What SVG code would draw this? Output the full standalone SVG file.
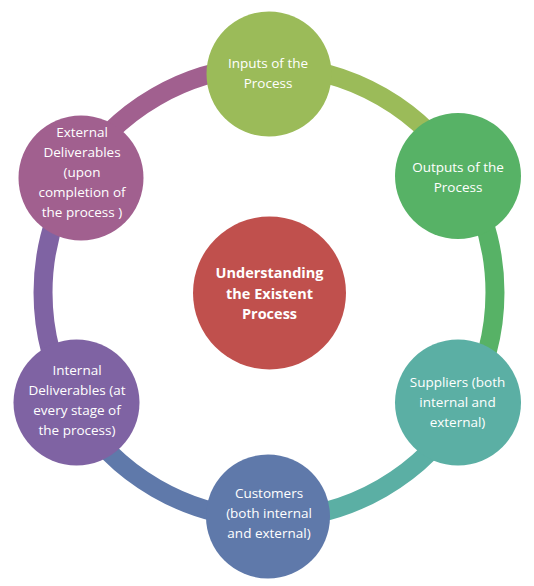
<svg xmlns="http://www.w3.org/2000/svg" width="534" height="586" viewBox="0 0 534 586">
  <style>
    .seg { fill: none; stroke-width: 19; }
    .lbl { font-family: "Open Sans", "Noto Sans", "Liberation Sans", sans-serif; font-size: 13.5px; fill: #ffffff; text-anchor: middle; }
    .hub { font-family: "Open Sans", "Noto Sans", "Liberation Sans", sans-serif; font-size: 14.5px; font-weight: bold; fill: #ffffff; text-anchor: middle; }
  </style>
  <rect width="534" height="586" fill="#ffffff"/>

  <!-- ring segments, each coloured like the node it leaves (clockwise) -->
  <g id="connectors">
    <path class="seg" stroke="#9BBB59" d="M 269 66.5 A 226 226 0 0 1 464.7 179.5"/>
    <path class="seg" stroke="#57B266" d="M 464.7 179.5 A 226 226 0 0 1 464.7 405.5"/>
    <path class="seg" stroke="#5BAFA4" d="M 464.7 405.5 A 226 226 0 0 1 269 518.5"/>
    <path class="seg" stroke="#5F79AA" d="M 269 518.5 A 226 226 0 0 1 73.3 405.5"/>
    <path class="seg" stroke="#7F63A3" d="M 73.3 405.5 A 226 226 0 0 1 73.3 179.5"/>
    <path class="seg" stroke="#A1608F" d="M 73.3 179.5 A 226 226 0 0 1 269 66.5"/>
  </g>

  <g id="hub">
    <circle cx="269.5" cy="293" r="76.5" fill="#C0504D"/>
    <text class="hub" x="269.5" y="278">Understanding</text>
    <text class="hub" x="269.5" y="299">the Existent</text>
    <text class="hub" x="269.5" y="319">Process</text>
  </g>

  <g id="inputs">
    <circle cx="269" cy="74" r="62.5" fill="#9BBB59"/>
    <text class="lbl" x="268" y="67.5">Inputs of the</text>
    <text class="lbl" x="268" y="87.5">Process</text>
  </g>

  <g id="outputs">
    <circle cx="458" cy="176" r="63" fill="#57B266"/>
    <text class="lbl" x="458" y="171.5">Outputs of the</text>
    <text class="lbl" x="458" y="191.5">Process</text>
  </g>

  <g id="suppliers">
    <circle cx="458" cy="402.5" r="63" fill="#5BAFA4"/>
    <text class="lbl" x="457.5" y="386.5">Suppliers (both</text>
    <text class="lbl" x="457.5" y="406.5">internal and</text>
    <text class="lbl" x="457.5" y="426.5">external)</text>
  </g>

  <g id="customers">
    <circle cx="268" cy="516.5" r="62" fill="#5F79AA"/>
    <text class="lbl" x="269" y="498">Customers</text>
    <text class="lbl" x="269" y="518">(both internal</text>
    <text class="lbl" x="269" y="538">and external)</text>
  </g>

  <g id="internal-deliverables">
    <circle cx="76.5" cy="402.5" r="63" fill="#7F63A3"/>
    <text class="lbl" x="77" y="375">Internal</text>
    <text class="lbl" x="77" y="395">Deliverables (at</text>
    <text class="lbl" x="77" y="414.5">every stage of</text>
    <text class="lbl" x="77" y="434.5">the process)</text>
  </g>

  <g id="external-deliverables">
    <circle cx="81" cy="178" r="62.5" fill="#A1608F"/>
    <text class="lbl" x="82" y="136.5">External</text>
    <text class="lbl" x="82" y="156.5">Deliverables</text>
    <text class="lbl" x="82" y="176.5">(upon</text>
    <text class="lbl" x="82" y="196.5">completion of</text>
    <text class="lbl" x="82" y="216.5">the process )</text>
  </g>
</svg>
